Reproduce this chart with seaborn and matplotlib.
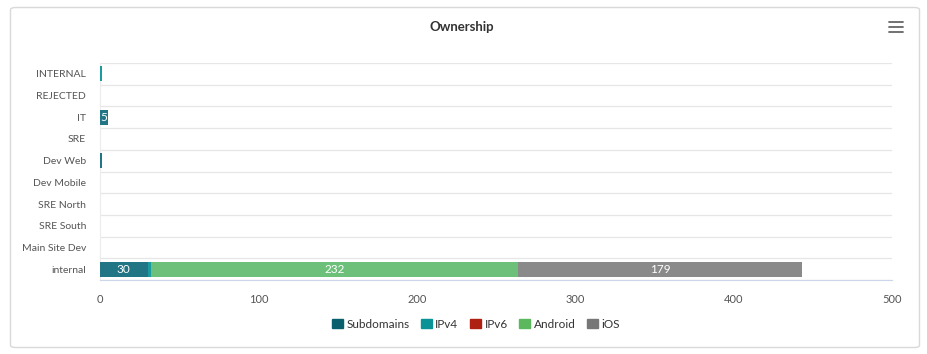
import numpy as np
import pandas as pd
import matplotlib
matplotlib.use("Agg")
import matplotlib.pyplot as plt
import seaborn as sns
from matplotlib.patches import Patch, FancyBboxPatch
from matplotlib.lines import Line2D

# Chart data
teams = ["INTERNAL", "REJECTED", "IT", "SRE", "Dev Web", "Dev Mobile",
         "SRE North", "SRE South", "Main Site Dev", "internal"]
series = ["Subdomains", "IPv4", "IPv6", "Android", "iOS"]
subdomains = [0, 0, 5, 0, 1, 0, 0, 0, 0, 30]
ipv4 = [1, 0, 0, 0, 0, 0, 0, 0, 0, 2]
ipv6 = [0, 0, 0, 0, 0, 0, 0, 0, 0, 0]
android = [0, 0, 0, 0, 0, 0, 0, 0, 0, 232]
ios = [0, 0, 0, 0, 0, 0, 0, 0, 0, 179]
x_ticks = [0, 100, 200, 300, 400, 500]

bar_colors = ["#217585", "#1a9ba0", "#b3282a", "#6cc07a", "#8a8a8a"]
legend_colors = ["#0a5f6e", "#0a9396", "#ae2012", "#5cb85c", "#777777"]

sns.set_style("white")
plt.rcParams["font.family"] = ["Lato", "DejaVu Sans"]

W, H = 928, 354
fig = plt.figure(figsize=(W / 100, H / 100), dpi=100)

# card frame
fig.patches.append(FancyBboxPatch((10.5 / W, 6.5 / H), 909 / W, 340 / H,
                                  boxstyle="round,pad=0,rounding_size=0.006",
                                  transform=fig.transFigure, fill=False,
                                  edgecolor="#d9d9d9", linewidth=1))

ax = fig.add_axes([100 / W, 1 - 280 / H, 792 / W, 217 / H])
ax.set_axisbelow(True)

df = pd.DataFrame({"team": teams, "Subdomains": subdomains, "IPv4": ipv4,
                   "IPv6": ipv6, "Android": android, "iOS": ios})
cum = df[series].cumsum(axis=1)

# stacked bars: draw cumulative totals from the largest down
for s, c in reversed(list(zip(series, bar_colors))):
    sns.barplot(data=cum.assign(team=teams), x=s, y=df["team"], orient="h",
                color=c, width=0.7, saturation=1, ax=ax, linewidth=0,
                order=teams, zorder=3)

# value labels
for i, t in enumerate(teams):
    start = 0
    for s in series:
        v = df.loc[i, s]
        if v >= 5:
            if v < 10:
                ax.text(start + 0.3, i, str(v), ha="left", va="center",
                        color="white", fontsize=8.5, zorder=4)
            else:
                ax.text(start + v / 2, i, str(v), ha="center", va="center",
                        color="white", fontsize=8.5, zorder=4)
        start += v

ax.set_xlim(0, 500)
ax.set_ylim(len(teams) - 0.5, -0.5)
ax.set_xticks(x_ticks)
ax.set_xticklabels([str(v) for v in x_ticks], fontsize=8, color="#555555")
ax.set_yticks(range(len(teams)))
ax.set_yticklabels(teams, fontsize=7.5, color="#555555")
ax.set_xlabel("")
ax.set_ylabel("")
for b in np.arange(-0.5, len(teams) - 0.4, 1):
    ax.axhline(b, color="#e6e6e6", linewidth=0.9, zorder=0)
ax.tick_params(axis="x", length=5, color="#ccd6eb", pad=5, width=0.8)
ax.tick_params(axis="y", length=0, pad=10)
sns.despine(ax=ax, top=True, right=True, left=False, bottom=False)
ax.spines["bottom"].set_color("#ccd6eb")
ax.spines["left"].set_color("#ececec")
ax.spines["left"].set_linewidth(0.8)
ax.spines["left"].set_zorder(1)

fig.text(462 / W, 1 - 27 / H, "Ownership", ha="center", va="center",
         fontsize=9.5, fontweight="bold", color="#333333")

# menu icon
for yy in (22, 27, 32):
    fig.lines.append(Line2D([889 / W, 903 / W], [1 - yy / H, 1 - yy / H],
                            transform=fig.transFigure, color="#666666",
                            linewidth=1.3))

handles = [Patch(facecolor=c, edgecolor=c, label=s)
           for s, c in zip(series, legend_colors)]
fig.legend(handles=handles, loc="center", bbox_to_anchor=(476 / W, 1 - 324 / H),
           ncol=5, frameon=False, fontsize=8.5, handlelength=0.9, handleheight=0.9,
           handletextpad=0.3, columnspacing=1.0, labelcolor="#333333")

fig.savefig("out.png", dpi=100)
